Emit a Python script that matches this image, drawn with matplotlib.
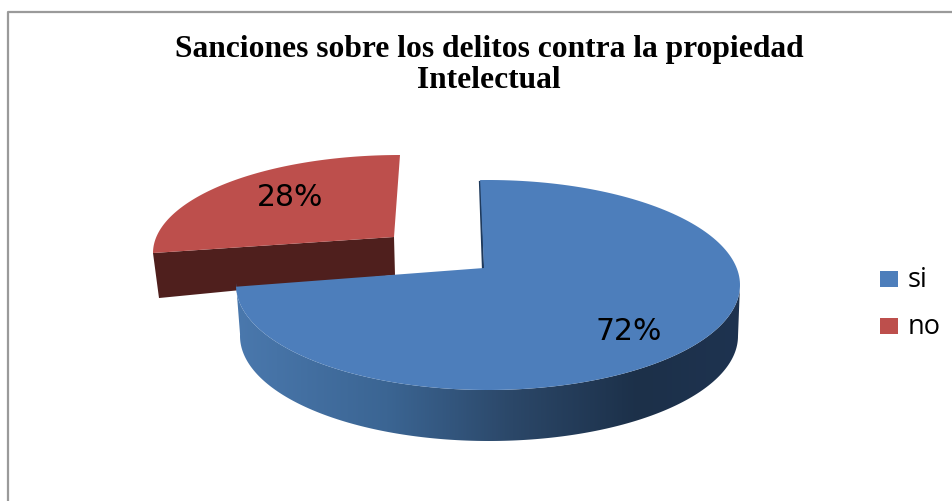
import numpy as np
import matplotlib
matplotlib.use("Agg")
import matplotlib.pyplot as plt
from matplotlib.patches import Polygon, Rectangle
from matplotlib.colors import LinearSegmentedColormap

categories = ["si", "no"]
values = [72, 28]
title_lines = ["Sanciones sobre los delitos contra la propiedad", "Intelectual"]

blue = "#4d7ebb"
red = "#bd4f4c"
dark_red = "#4f1f1d"

fig = plt.figure(figsize=(9.52, 5.01), dpi=100)
ax = fig.add_axes([0, 0, 1, 1])


def ring(cx, cy, rx, ry, a0, a1, n=200):
    t = np.radians(np.linspace(a0, a1, n))
    return np.column_stack([cx + rx * np.cos(t), cy - ry * np.sin(t)])


# chart frame
ax.plot([8, 8, 952], [501, 12, 12], color="#9a9a9a", lw=1.6, zorder=1)

# red slice, pulled out, goes counter clockwise from the top
red_span = values[1] / 100 * 360 * 0.893
red_arc = ring(400, 253, 247, 98, 90, 90 + red_span)
red_apex = np.array([394, 237])
side = [red_arc[-1], red_apex, red_apex + [1, 38], red_arc[-1] + [6, 45]]
ax.add_patch(Polygon(side, fc=dark_red, ec="none", zorder=2))
ax.add_patch(Polygon(np.vstack([red_apex, red_arc]), fc=red, ec="none", zorder=3))

# blue slice, clockwise from the top
blue_span = values[0] / 100 * 360 * 1.045
blue_arc = ring(488, 285, 252, 105, 91.8, 91.8 - blue_span)
blue_apex = np.array([484, 268])

front_top = ring(488, 285, 252, 105, 0, -181)
front_bot = ring(489, 336, 249, 105, -181, 0)
front = Polygon(np.vstack([front_top, front_bot]), transform=ax.transData, fc="none", ec="none")
ax.add_patch(front)
cmap = LinearSegmentedColormap.from_list(
    "side",
    [(0, "#4a78ad"), (0.3, "#3b6593"), (0.55, "#2b4768"), (0.8, "#1c3049"), (1, "#1e3350")],
)
img = ax.imshow(np.linspace(0, 1, 256).reshape(1, -1), cmap=cmap, extent=[236, 740, 445, 280],
                aspect="auto", zorder=4)
img.set_clip_path(front)

ax.plot([480, 483], [182, 268], color="#1f3a5c", lw=1.6, zorder=4)
ax.add_patch(Polygon(np.vstack([blue_apex, blue_arc]), fc=blue, ec="none", zorder=5))

# labels
ax.text(290, 198, f"{values[1]}%", fontsize=21.5, family="DejaVu Sans", ha="center", va="center", zorder=6)
ax.text(629, 331, f"{values[0]}%", fontsize=21.5, family="DejaVu Sans", ha="center", va="center", zorder=6)

# title
for y, line in zip([49, 80], title_lines):
    ax.text(489, y, line, fontsize=22.7, family="Liberation Serif", weight="bold", ha="center", va="center")

# legend
for y, name, col in zip([279, 326], categories, [blue, red]):
    ax.add_patch(Rectangle((880, y - 8), 18, 16, fc=col, ec="none"))
    ax.text(908, y + 8, name, fontsize=19.5, family="Open Sans", ha="left", va="baseline")

ax.set_xlim(0, 952)
ax.set_ylim(501, 0)
ax.axis("off")
fig.savefig("out.png", dpi=100)
